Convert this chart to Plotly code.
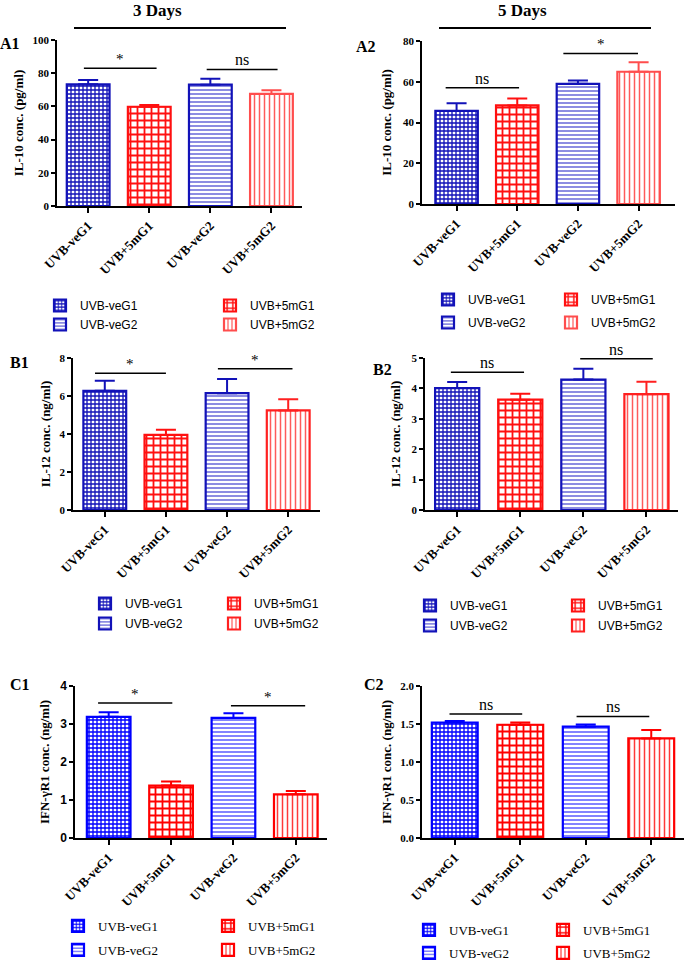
import plotly.graph_objects as go

W, H = 685, 960

groups = ["UVB-veG1", "UVB+5mG1", "UVB-veG2", "UVB+5mG2"]

a1_mean = [73.3, 59.8, 73.1, 67.5]
a1_err = [2.6, 1.0, 3.6, 2.2]
a2_mean = [45.7, 48.4, 59.0, 64.9]
a2_err = [3.7, 3.4, 1.6, 4.7]
b1_mean = [6.27, 3.95, 6.15, 5.24]
b1_err = [0.53, 0.27, 0.75, 0.59]
b2_mean = [4.01, 3.63, 4.29, 3.81]
b2_err = [0.20, 0.19, 0.36, 0.41]
c1_mean = [3.19, 1.38, 3.16, 1.15]
c1_err = [0.12, 0.11, 0.12, 0.09]
c2_mean = [1.52, 1.49, 1.465, 1.31]
c2_err = [0.02, 0.03, 0.03, 0.11]

# significance bars: (start, end, height, label)
a1_sig = [(-0.07, 1.12, 83.0, "*"), (1.94, 3.10, 82.3, "ns")]
a2_sig = [(-0.18, 1.03, 57.0, "ns"), (1.76, 2.99, 73.9, "*")]
b1_sig = [(-0.16, 1.00, 7.2, "*"), (1.85, 3.07, 7.43, "*")]
b2_sig = [(-0.10, 1.06, 4.53, "ns"), (1.95, 3.10, 4.975, "ns")]
c1_sig = [(-0.17, 1.02, 3.55, "*"), (1.96, 3.15, 3.48, "*")]
c2_sig = [(-0.08, 1.03, 1.63, "ns"), (1.86, 2.97, 1.60, "ns")]

y_titles = ["IL-10 conc. (pg/ml)", "IL-10 conc. (pg/ml)",
            "IL-12 conc. (ng/ml)", "IL-12 conc. (ng/ml)",
            "IFN-\u03b3R1 conc. (ng/ml)", "IFN-\u03b3R1 conc. (ng/ml)"]
panel_labels = ["A1", "A2", "B1", "B2", "C1", "C2"]
day_titles = ["3 Days", "5 Days"]

means = [a1_mean, a2_mean, b1_mean, b2_mean, c1_mean, c2_mean]
errs = [a1_err, a2_err, b1_err, b2_err, c1_err, c2_err]
sigs = [a1_sig, a2_sig, b1_sig, b2_sig, c1_sig, c2_sig]

# ---- layout / style (pixels) ----
boxes = [(57, 40, 302, 206), (422, 41, 675, 204),
         (73, 358, 320, 510), (425, 358, 678, 510),
         (75, 686, 327, 838), (422, 686, 684, 838)]
yranges = [(0, 100, 20), (0, 80, 20), (0, 8, 2), (0, 5, 1), (0, 4, 1), (0, 2, 0.5)]
xranges = [(-0.51, 3.5), (-0.57, 3.6), (-0.52, 3.52), (-0.51, 3.5), (-0.54, 3.5), (-0.5, 3.5)]
standoffs = [6, 8, 6, 8, 8, 6]
label_pos = [(10, 44), (366, 47), (19, 362), (382, 369), (20, 684), (374, 684)]
# legend: (left text x, right text x, first row center y, row spacing)
leg_pos = [(77, 247, 303, 17), (465, 588, 297, 25),
           (122, 251, 601, 22), (447, 595, 603, 22),
           (95, 245, 927, 23), (446, 580, 931, 22)]

SERIF = "Liberation Serif, Times New Roman, serif"
SANS = "Liberation Sans, Arial, sans-serif"


def colors(k):
    if k >= 4:
        return dict(b="#0000ff", bl="#4d4dff", r="#ff0000", rl="#ff3a3a", rb="#ff0000")
    return dict(b="#1212b8", bl="#5c5cd6", r="#ff1010", rl="#ff5a5a", rb="#ff4d4d" if k < 2 else "#ff2020")


fig = go.Figure()
annotations = []
shapes = []
layout = {}

for k in range(6):
    xa = "x" if k == 0 else f"x{k+1}"
    ya = "y" if k == 0 else f"y{k+1}"
    c = colors(k)
    styles = [
        dict(shape="+", size=4, solidity=0.55, fg=c["b"], line=c["b"]),
        dict(shape="+", size=7, solidity=0.45, fg=c["r"], line=c["r"]),
        dict(shape="-", size=4, solidity=0.35, fg=c["bl"], line=c["b"]),
        dict(shape="|", size=5, solidity=0.3, fg=c["rl"], line=c["rb"]),
    ]
    leg_left = "legend" if k == 0 else f"legend{2*k+1}"
    leg_right = f"legend{2*k+2}"
    for gi, g in enumerate(groups):
        s = styles[gi]
        fig.add_trace(go.Bar(
            x=[g], y=[means[k][gi]], width=0.7, name=g,
            xaxis=xa, yaxis=ya,
            legend=leg_left if gi in (0, 2) else leg_right,
            legendgroup=f"p{k}g{gi}",
            marker=dict(color="white", line=dict(color=s["line"], width=2.2),
                        pattern=dict(shape=s["shape"], size=s["size"], solidity=s["solidity"],
                                     fgcolor=s["fg"], bgcolor="white", fillmode="replace")),
            error_y=dict(type="data", array=[errs[k][gi]], arrayminus=[0], symmetric=False,
                         color=s["line"], thickness=2, width=10),
        ))
    x0, y0, x1, y1 = boxes[k]
    ymin, ymax, dt = yranges[k]
    tickfont = dict(family=SANS if k == 4 else SERIF, size=11 if k != 4 else 12, color="black", weight="bold")
    layout["xaxis" if k == 0 else f"xaxis{k+1}"] = dict(
        domain=[x0 / W, x1 / W], anchor=ya, range=list(xranges[k]),
        type="category", categoryorder="array", categoryarray=groups,
        showline=True, linecolor="black", linewidth=2, ticks="outside", ticklen=5,
        tickwidth=1.5, tickcolor="black", tickangle=-45, showgrid=False, zeroline=False,
        tickfont=dict(family=SERIF, size=13, color="black", weight="bold"), fixedrange=True)
    layout["yaxis" if k == 0 else f"yaxis{k+1}"] = dict(
        domain=[1 - y1 / H, 1 - y0 / H], anchor=xa, range=[ymin, ymax], dtick=dt, tick0=0,
        tickformat=".1f" if k == 5 else "d",
        showline=True, linecolor="black", linewidth=1.5, ticks="outside", ticklen=4,
        tickwidth=1.5, tickcolor="black", showgrid=False, zeroline=False,
        tickfont=tickfont, fixedrange=True,
        title=dict(text=y_titles[k], standoff=standoffs[k],
                   font=dict(family=SERIF, size=13, color="black", weight="bold")))
    for (s0, s1, h, lab) in sigs[k]:
        shapes.append(dict(type="line", xref=xa, yref=ya, x0=s0, x1=s1, y0=h, y1=h,
                           line=dict(color="black", width=1.5)))
        annotations.append(dict(xref=xa, yref=ya, x=(s0 + s1) / 2, y=h, text=lab,
                                showarrow=False, yanchor="bottom", yshift=-1,
                                font=dict(family=SERIF, size=15 if lab == "*" else 16, color="black")))
    lx, ly = label_pos[k]
    annotations.append(dict(xref="paper", yref="paper", x=lx / W, y=1 - ly / H, text=panel_labels[k],
                            showarrow=False, xanchor="center", yanchor="middle",
                            font=dict(family=SERIF, size=16, color="black", weight="bold")))
    tl, tr, ry, sp = leg_pos[k]
    serif_leg = k >= 4
    lfont = dict(family=SERIF if serif_leg else SANS, size=13 if serif_leg else 12, color="black")
    top_off = 16 if serif_leg else 12
    base = 19 if serif_leg else 21
    for name, tx in ((leg_left, tl), (leg_right, tr)):
        layout[name] = dict(x=(tx - 37) / W, y=1 - (ry - top_off) / H, xanchor="left", yanchor="top",
                            orientation="v", font=lfont, bgcolor="rgba(0,0,0,0)",
                            tracegroupgap=max(sp - base, 0), itemclick=False, itemdoubleclick=False)

for (cx, lx0, lx1, ly), t in zip([(157, 74, 286, 28), (522, 439, 651, 28)], day_titles):
    annotations.append(dict(xref="paper", yref="paper", x=cx / W, y=1, text=t,
                            showarrow=False, xanchor="center", yanchor="top", yshift=1,
                            font=dict(family=SERIF, size=17, color="black", weight="bold")))
    shapes.append(dict(type="line", xref="paper", yref="paper", x0=lx0 / W, x1=lx1 / W,
                       y0=1 - ly / H, y1=1 - ly / H, line=dict(color="black", width=2)))

fig.update_layout(
    width=W, height=H, margin=dict(l=0, r=0, t=0, b=0, pad=0, autoexpand=False),
    paper_bgcolor="white", plot_bgcolor="white", barmode="overlay",
    showlegend=True, annotations=annotations, shapes=shapes, **layout)

fig.write_html("out.html", config={"displayModeBar": False})
